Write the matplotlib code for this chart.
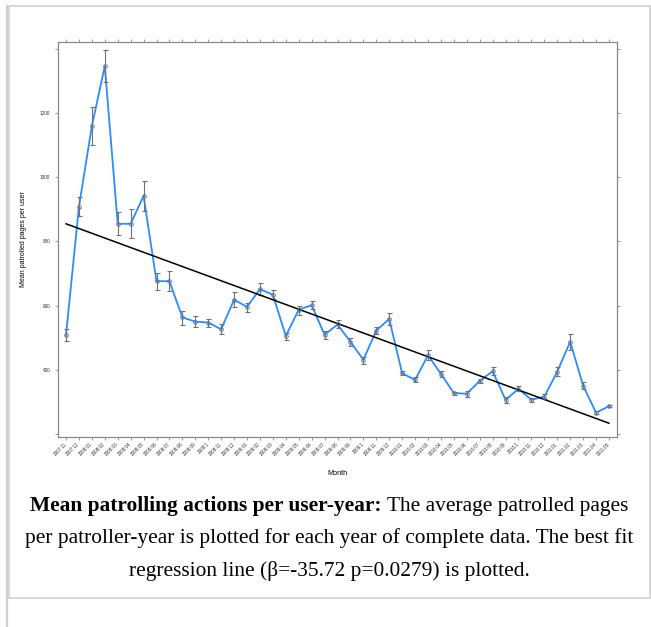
import numpy as np
import matplotlib
matplotlib.use("Agg")
import matplotlib.pyplot as plt
from matplotlib.patches import Rectangle
from matplotlib.lines import Line2D

# months (lattice style labels, October shown as ".1")
months = ["2007.11", "2007.12",
          "2008.01", "2008.02", "2008.03", "2008.04", "2008.05", "2008.06",
          "2008.07", "2008.08", "2008.09", "2008.1", "2008.11", "2008.12",
          "2009.01", "2009.02", "2009.03", "2009.04", "2009.05", "2009.06",
          "2009.07", "2009.08", "2009.09", "2009.1", "2009.11", "2009.12",
          "2010.01", "2010.02", "2010.03", "2010.04", "2010.05", "2010.06",
          "2010.07", "2010.08", "2010.09", "2010.1", "2010.11", "2010.12",
          "2011.01", "2011.02", "2011.03", "2011.04", "2011.05"]

mean_pages = [508, 908, 1160, 1347, 855, 855, 942, 676, 676, 563,
              550, 547, 526, 618, 596, 651, 634, 505, 587, 601,
              509, 541, 487, 431, 522, 558, 389, 368, 445, 387,
              327, 325, 365, 395, 306, 340, 306, 316, 394, 487,
              350, 266, 286]

err_low = [490, 880, 1101, 1297, 819, 812, 894, 647, 644, 540,
           533, 534, 512, 594, 581, 632, 620, 493, 570, 590,
           495, 529, 474, 418, 511, 538, 382, 360, 431, 377,
           320, 314, 358, 383, 295, 332, 299, 308, 381, 462,
           339, 263, 283]

err_high = [526, 937, 1220, 1397, 891, 900, 989, 703, 708, 584,
            568, 559, 541, 642, 609, 670, 647, 515, 600, 614,
            522, 555, 498, 441, 533, 576, 397, 377, 460, 395,
            331, 333, 372, 408, 316, 349, 313, 325, 408, 512,
            360, 270, 289]

# regression line (value at first month, change per month)
reg_start = 855
reg_slope = -14.81

y_ticks = [200, 400, 600, 800, 1000, 1200, 1400]
y_ticklabels = ["", "400", "600", "800", "1000", "1200", ""]

caption_bold = "Mean patrolling actions per user-year:"
caption_rest = " The average patrolled pages"
caption_line2 = "per patroller-year is plotted for each year of complete data. The best fit"
caption_line3 = "regression line (\u03b2=-35.72 p=0.0279) is plotted."

W, H = 651, 627
fig = plt.figure(figsize=(W / 100, H / 100), dpi=100)

# page frame
fig.add_artist(Line2D([7 / W, 7 / W], [0, 1 - 6 / H], color="#d0d0d0", lw=1.5))
fig.add_artist(Rectangle((8.5 / W, 1 - 598 / H), (649.5 - 8.5) / W, (598 - 6) / H,
                         fill=False, edgecolor="#d0d0d0", lw=1.2))

ax = fig.add_axes([58 / W, 1 - 437 / H, (617 - 58) / W, (437 - 42) / H])

x = np.arange(len(months))
y = np.array(mean_pages)
lo = y - np.array(err_low)
hi = np.array(err_high) - y

ax.plot(x, y, color="#2b8cff", lw=1.3, zorder=2)
ax.errorbar(x, y, yerr=[lo, hi], fmt="none", ecolor="#707070", elinewidth=0.8,
            capsize=1.8, capthick=0.8, zorder=3)
ax.plot(x, y, "o", ms=2.6, mfc="none", mec="#5a7fa8", mew=0.7, zorder=4)

reg_y = reg_start + reg_slope * x
ax.plot([x[0], x[-1]], [reg_y[0], reg_y[-1]], color="black", lw=1.1, zorder=3)

ax.set_xlim(-0.62, len(months) - 1 + 0.62)
ax.set_ylim(190, 1422)

ax.set_xticks(x)
ax.set_xticklabels(months, rotation=45, ha="right", va="center",
                   rotation_mode="anchor", fontsize=3.3, color="#333333",
                   family="Liberation Sans")
ax.set_yticks(y_ticks)
ax.set_yticklabels(y_ticklabels, fontsize=3.4, color="#333333",
                   family="Liberation Sans")

ax.tick_params(axis="both", direction="out", length=2.2, width=0.6,
               color="#888888", top=True, right=True)
ax.tick_params(axis="x", pad=2.5)
ax.tick_params(axis="y", pad=3.5)
for s in ax.spines.values():
    s.set_color("#888888")
    s.set_linewidth(0.9)

ax.set_xlabel("Month", fontsize=5.2, family="Liberation Sans", labelpad=9)
ax.set_ylabel("Mean patrolled pages per user", fontsize=5.0,
              family="Liberation Sans", labelpad=9)

# caption
cx = 329 / W
cap_size = 15.4
t1 = fig.text(0, 1 - 511 / H, caption_bold, fontsize=cap_size, weight="bold",
              family="Liberation Serif", va="baseline", ha="left")
t2 = fig.text(0, 1 - 511 / H, caption_rest, fontsize=cap_size,
              family="Liberation Serif", va="baseline", ha="left")
fig.canvas.draw()
r = fig.canvas.get_renderer()
w1 = t1.get_window_extent(r).width / W
w2 = t2.get_window_extent(r).width / W
start = cx - (w1 + w2) / 2
t1.set_x(start)
t2.set_x(start + w1)
fig.text(cx, 1 - 543.5 / H, caption_line2, fontsize=cap_size,
         family="Liberation Serif", va="baseline", ha="center")
fig.text(cx, 1 - 576 / H, caption_line3, fontsize=cap_size,
         family="Liberation Serif", va="baseline", ha="center")

fig.savefig("out.png", dpi=100)
